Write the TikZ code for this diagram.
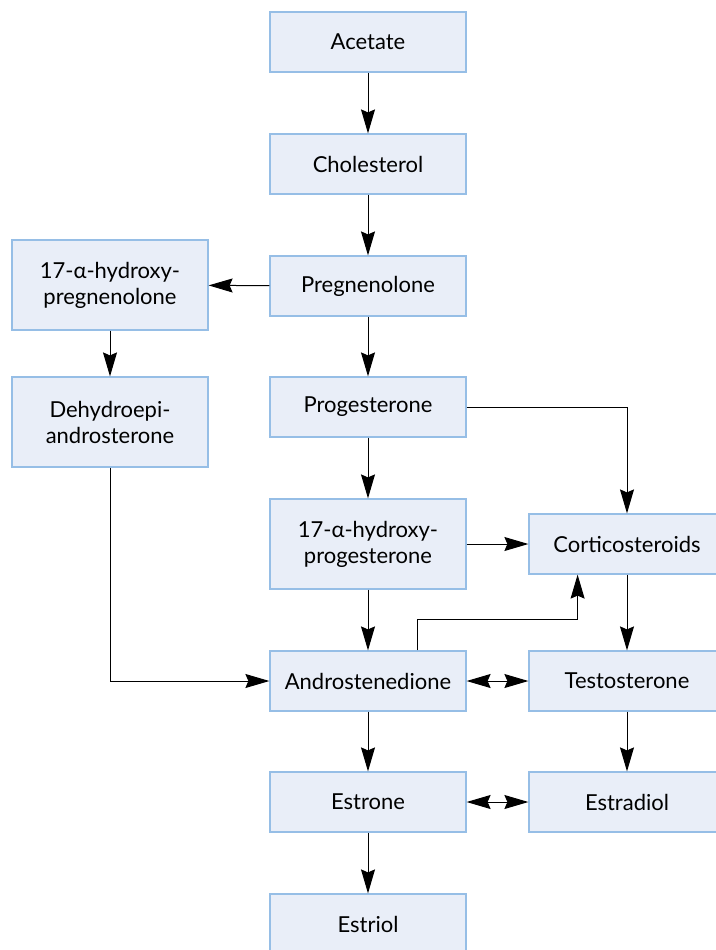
\documentclass[tikz,border=0pt]{standalone}
\usepackage{fontspec}
\setmainfont{Lato}
\usetikzlibrary{arrows.meta}
\definecolor{boxfill}{RGB}{233,238,248}
\definecolor{boxline}{RGB}{150,190,230}
\begin{document}
\begin{tikzpicture}[x=0.5pt,y=-0.5pt,
    box/.style={draw=boxline,fill=boxfill,line width=0.6pt,minimum width=98pt,minimum height=30pt,
        inner sep=0pt,align=center,font=\fontsize{11}{13}\selectfont},
    tallbox/.style={box,minimum height=45pt},
    arrow/.style={line width=0.5pt,-{Stealth[length=12pt,width=7pt,inset=1.5pt]}},
    twoway/.style={line width=0.5pt,{Stealth[length=12pt,width=7pt,inset=1.5pt]}-{Stealth[length=12pt,width=7pt,inset=1.5pt]}}]
        \useasboundingbox (0,0) rectangle (716,950);
        %% main column
        \node[box] (acetate) at (368,42) {Acetate};
        \node[box] (cholesterol) at (368,164) {Cholesterol};
        \node[box] (pregnenolone) at (368,286) {Pregnenolone};
        \node[box] (progesterone) at (368,407) {Progesterone};
        \node[tallbox] (hprog) at (368,544) {17-α-hydroxy-\\progesterone};
        \node[box] (andro) at (368,681) {Androstenedione};
        \node[box] (estrone) at (368,802) {Estrone};
        \node[box] (estriol) at (368,924) {Estriol};
        %% left column
        \node[tallbox] (hpreg) at (110,285) {17-α-hydroxy-\\pregnenolone};
        \node[tallbox] (dhea) at (110,422) {Dehydroepi-\\androsterone};
        %% right column
        \node[box] (cortico) at (627,544) {Corticosteroids};
        \node[box] (testo) at (627,681) {Testosterone};
        \node[box] (estradiol) at (627,802) {Estradiol};
        %% connectors
        \draw[arrow] (acetate) -- (cholesterol);
        \draw[arrow] (cholesterol) -- (pregnenolone);
        \draw[arrow] (pregnenolone) -- (hpreg);
        \draw[arrow] (hpreg) -- (dhea);
        \draw[arrow] (pregnenolone) -- (progesterone);
        \draw[arrow] (progesterone) -- (hprog);
        \draw[arrow] (progesterone.east) -| (cortico.north);
        \draw[arrow] (hprog) -- (cortico);
        \draw[arrow] (hprog) -- (andro);
        \draw[arrow] (dhea.south) |- (andro.west);
        \draw[arrow] ([xshift=24.7pt]andro.north) -- ++(0,-31) -| ([xshift=-24.7pt]cortico.south);
        \draw[arrow] (cortico) -- (testo);
        \draw[twoway] (andro) -- (testo);
        \draw[arrow] (andro) -- (estrone);
        \draw[arrow] (testo) -- (estradiol);
        \draw[twoway] (estrone) -- (estradiol);
        \draw[arrow] (estrone) -- (estriol);
    \end{tikzpicture}
\end{document}
